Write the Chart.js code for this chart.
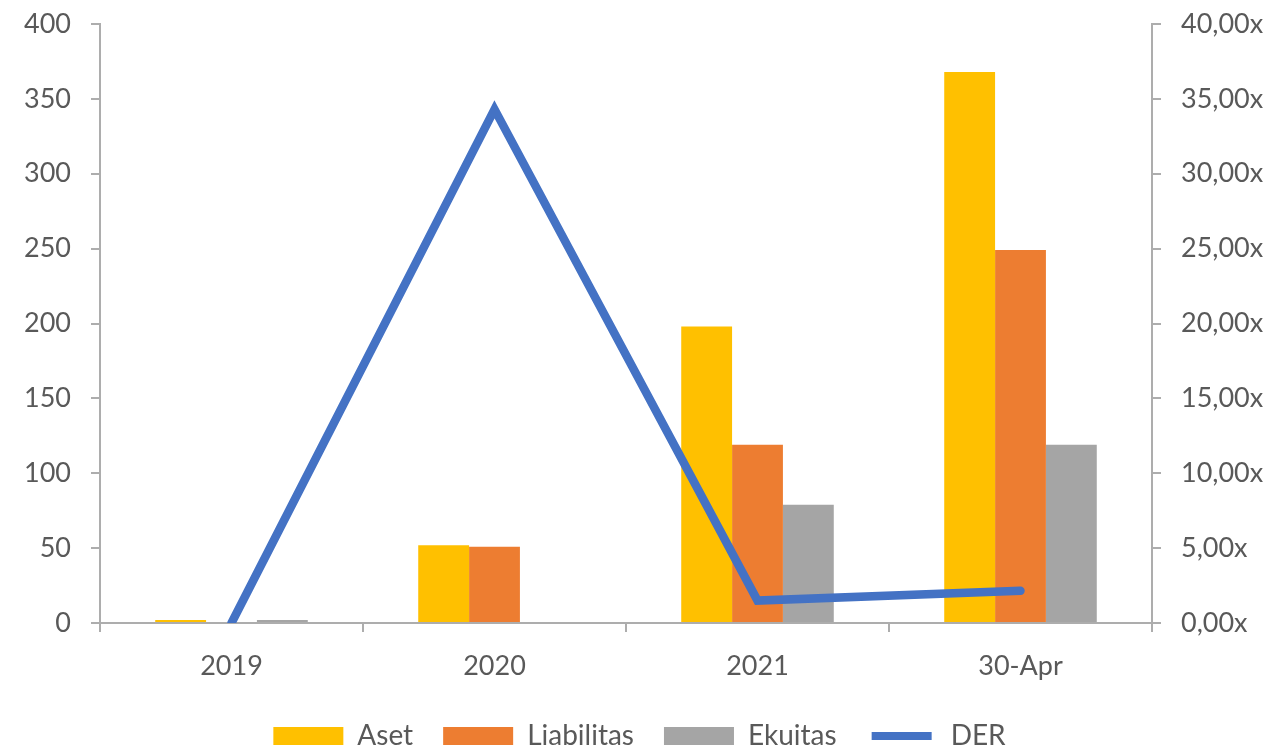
<!DOCTYPE html>
<html>
<head>
<meta charset="utf-8">
<script src="https://cdn.jsdelivr.net/npm/chart.js@4"></script>
<style>
    html, body { margin: 0; padding: 0; background: #fff; }
    #wrap { position: relative; width: 1279px; height: 750px; }
</style>
</head>
<body>
<div id="wrap"><canvas id="derChart"></canvas></div>
<script>
// chart values
const categories = ['2019', '2020', '2021', '30-Apr'];
const asetValues = [2, 52, 198, 368];
const liabilitasValues = [0, 51, 119, 249];
const ekuitasValues = [2, 0, 79, 119];
const derValues = [0, 34.3, 1.5, 2.15];
const leftTicks = [0, 50, 100, 150, 200, 250, 300, 350, 400];
const rightTicks = [0, 5, 10, 15, 20, 25, 30, 35, 40];

const textColor = '#595959';
const axisColor = '#ADADAD';
const fontFamily = 'Lato, "Open Sans", sans-serif';

const ctx = document.getElementById('derChart');
new Chart(ctx.getContext('2d'), {
    type: 'bar',
    data: {
        labels: categories,
        datasets: [
            { label: 'Aset', data: asetValues, backgroundColor: '#FFC000', order: 1 },
            { label: 'Liabilitas', data: liabilitasValues, backgroundColor: '#ED7D31', order: 1 },
            { label: 'Ekuitas', data: ekuitasValues, backgroundColor: '#A5A5A5', order: 1 },
            {
                type: 'line',
                label: 'DER',
                data: derValues,
                yAxisID: 'y1',
                borderColor: '#4472C4',
                backgroundColor: '#4472C4',
                borderWidth: 8.5,
                pointRadius: 0,
                borderCapStyle: 'round',
                borderJoinStyle: 'miter',
                tension: 0,
                order: 0
            }
        ]
    },
    options: {
        responsive: true,
        maintainAspectRatio: false,
        animation: false,
        layout: { padding: { left: 0, right: 0, top: 0, bottom: -10 } },
        datasets: { bar: { barPercentage: 1, categoryPercentage: 0.58 } },
        plugins: {
            tooltip: { enabled: false },
            legend: {
                position: 'bottom',
                labels: {
                    color: textColor,
                    font: { family: fontFamily, size: 28 },
                    boxWidth: 70,
                    boxHeight: 18,
                    padding: 30,
                    sort: (a, b) => a.datasetIndex - b.datasetIndex,
                    generateLabels(chart) {
                        const items = Chart.defaults.plugins.legend.labels.generateLabels(chart);
                        items.forEach(it => {
                            if (it.text === 'DER') {
                                // white stroke trims the box down to a thick line
                                it.fillStyle = '#4472C4';
                                it.strokeStyle = '#ffffff';
                                it.lineWidth = 10;
                            } else {
                                it.lineWidth = 0;
                            }
                        });
                        return items;
                    }
                }
            }
        },
        scales: {
            x: {
                grid: { drawOnChartArea: false, drawTicks: true, tickLength: 9, color: axisColor, lineWidth: 2 },
                border: { color: axisColor, width: 2 },
                ticks: { color: textColor, font: { family: fontFamily, size: 27 }, padding: 18 },
                afterFit(scale) { scale.height = 69; }
            },
            y: {
                position: 'left',
                min: 0,
                max: 400,
                afterBuildTicks(scale) { scale.ticks = leftTicks.map(v => ({ value: v })); },
                grid: { drawOnChartArea: false, drawTicks: true, tickLength: 9, color: axisColor, lineWidth: 2 },
                border: { color: axisColor, width: 2 },
                ticks: { color: textColor, font: { family: fontFamily, size: 27 }, padding: 20 },
                afterFit(scale) { scale.width = 100; scale.paddingTop = 24; }
            },
            y1: {
                position: 'right',
                min: 0,
                max: 40,
                afterBuildTicks(scale) { scale.ticks = rightTicks.map(v => ({ value: v })); },
                grid: { drawOnChartArea: false, drawTicks: true, tickLength: 9, color: axisColor, lineWidth: 2 },
                border: { color: axisColor, width: 2 },
                ticks: {
                    color: textColor,
                    font: { family: fontFamily, size: 27 },
                    padding: 20,
                    callback: v => v.toFixed(2).replace('.', ',') + 'x'
                },
                afterFit(scale) { scale.width = 127; scale.paddingTop = 24; }
            }
        }
    }
});
</script>
</body>
</html>
